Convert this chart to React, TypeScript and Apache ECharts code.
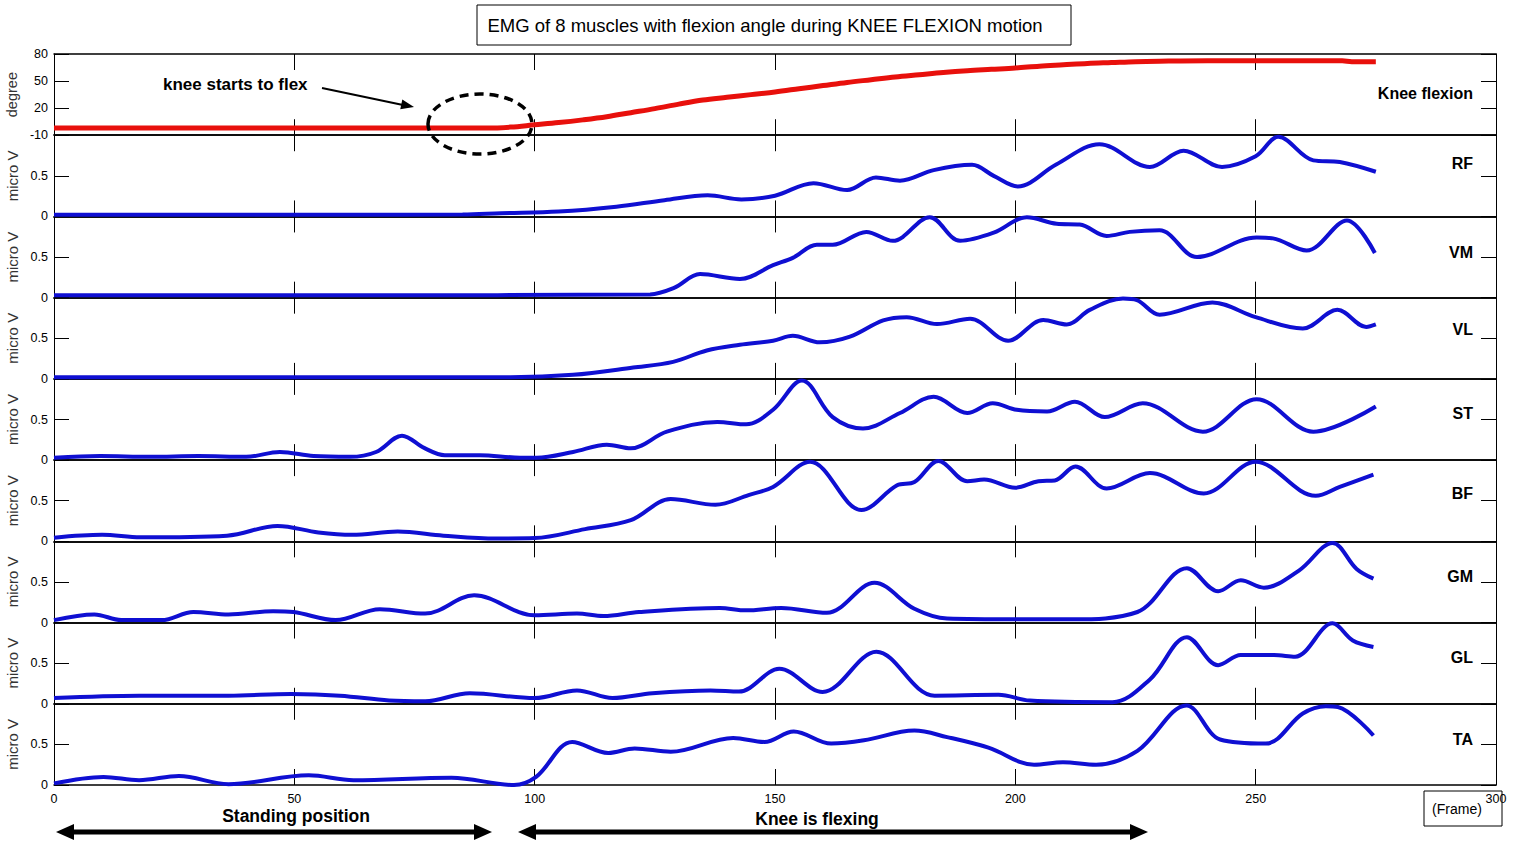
import React, { useEffect, useRef } from "react";
import * as echarts from "echarts";

type Pt = [number, number];

const frameMin = 0;
const frameMax = 300;
const frameStep = 50;
const panelLabels = ["Knee flexion", "RF", "VM", "VL", "ST", "BF", "GM", "GL", "TA"];
const axisNames = ["degree", "micro V", "micro V", "micro V", "micro V", "micro V", "micro V", "micro V", "micro V"];
const titleText = "EMG of 8 muscles with flexion angle during KNEE FLEXION motion";

const kneeFlexion: Pt[] = [
  [0, -2], [40, -2], [90, -2], [95, -1], [100, 1.5], [105, 4], [110, 7], [115, 10.5], [120, 15], [125, 19.5],
  [130, 24.5], [135, 29], [140, 32], [145, 35], [150, 38], [155, 41.5], [160, 45], [165, 48.5], [170, 51.5],
  [175, 54.5], [180, 57], [185, 59.5], [190, 61.5], [195, 63], [200, 64.5], [205, 66.5], [210, 68], [215, 69.5],
  [220, 70.5], [225, 71.5], [230, 72], [240, 72.5], [250, 72.5], [260, 72.5], [268, 72.5], [270, 71.5], [275, 71.5],
];

const rf: Pt[] = [
  [0, 0.02], [30, 0.02], [60, 0.02], [85, 0.025], [93, 0.04], [105, 0.06], [117, 0.12], [127, 0.2], [136, 0.26],
  [143, 0.21], [150, 0.255], [158, 0.41], [165, 0.325], [171, 0.48], [176, 0.44], [183, 0.57], [191, 0.635],
  [195.5, 0.5], [200.5, 0.37], [208.5, 0.64], [217.5, 0.89], [228, 0.61], [235, 0.81], [243, 0.61], [250, 0.74],
  [254.7, 0.98], [262, 0.69], [267.5, 0.67], [275, 0.55],
];

const vm: Pt[] = [
  [0, 0.03], [60, 0.03], [124, 0.04], [129, 0.12], [134.4, 0.29], [142.7, 0.23], [149.6, 0.4], [153.7, 0.49],
  [158.7, 0.65], [162, 0.65], [169, 0.81], [174.5, 0.7], [182.2, 0.99], [188.5, 0.7], [195.5, 0.8], [202.4, 0.99],
  [208.6, 0.91], [213.4, 0.9], [219, 0.76], [223.8, 0.81], [230, 0.83], [237.8, 0.5], [250.2, 0.74], [253.6, 0.73],
  [260.6, 0.58], [269, 0.95], [274.8, 0.55],
];

const vl: Pt[] = [
  [0, 0.02], [50, 0.02], [95, 0.02], [108, 0.05], [120.5, 0.14], [128.8, 0.21], [135.8, 0.35], [142.7, 0.42],
  [149.6, 0.47], [153.7, 0.53], [159.3, 0.45], [165.6, 0.52], [172.5, 0.72], [177.4, 0.76], [183.7, 0.675],
  [190.6, 0.74], [198.5, 0.47], [205.8, 0.725], [210.7, 0.67], [215.5, 0.85], [222.4, 0.99], [225.3, 0.97],
  [230, 0.79], [241, 0.94], [250, 0.76], [259.8, 0.62], [267, 0.85], [273, 0.64], [275, 0.67],
];

const st: Pt[] = [
  [0, 0.03], [9.6, 0.05], [20, 0.04], [30, 0.05], [40, 0.04], [47, 0.1], [54, 0.05], [61.6, 0.04], [67, 0.1],
  [72.4, 0.3], [77, 0.15], [81.3, 0.06], [88.6, 0.06], [97, 0.03], [100.4, 0.03], [108, 0.1], [115, 0.19],
  [120, 0.145], [127.5, 0.35], [138, 0.47], [144, 0.44], [149.6, 0.62], [155.6, 0.98], [162, 0.53], [168.3, 0.39],
  [176, 0.58], [183, 0.78], [190, 0.58], [195.3, 0.7], [200.3, 0.62], [206.6, 0.6], [212.4, 0.72], [218.6, 0.53],
  [226.5, 0.7], [239, 0.35], [250.2, 0.75], [262, 0.35], [275, 0.66],
];

const bf: Pt[] = [
  [0, 0.045], [10, 0.08], [18, 0.05], [36, 0.07], [46.5, 0.19], [55, 0.11], [62, 0.08], [71.5, 0.12], [81, 0.07],
  [92, 0.035], [100, 0.04], [110.5, 0.15], [120, 0.26], [128.3, 0.52], [137.6, 0.45], [144.5, 0.57], [149.6, 0.67],
  [157.3, 0.98], [168, 0.385], [175.4, 0.69], [179, 0.73], [184, 0.99], [190, 0.74], [193.5, 0.76], [200, 0.66],
  [204.8, 0.74], [208.2, 0.75], [212.5, 0.92], [219, 0.65], [228, 0.84], [239.2, 0.59], [250, 0.98], [262.5, 0.56],
  [267.5, 0.67], [274.5, 0.82],
];

const gm: Pt[] = [
  [0, 0.03], [8.4, 0.1], [14, 0.03], [22.4, 0.03], [29, 0.13], [36.3, 0.1], [45.6, 0.14], [49.8, 0.13], [58.6, 0.03],
  [67.8, 0.165], [77.2, 0.11], [87.4, 0.335], [100, 0.09], [108.8, 0.11], [114.3, 0.08], [121.7, 0.13], [138.5, 0.18],
  [144, 0.15], [151.3, 0.18], [160.8, 0.12], [170.7, 0.49], [179, 0.17], [185.8, 0.05], [200, 0.04], [211.6, 0.04],
  [225.4, 0.13], [235.7, 0.67], [242.2, 0.385], [246.9, 0.52], [251.7, 0.43], [259, 0.64], [266, 0.98], [271, 0.66],
  [274.5, 0.54],
];

const gl: Pt[] = [
  [0, 0.07], [17.7, 0.1], [36.3, 0.1], [49.3, 0.12], [59.5, 0.1], [69.7, 0.04], [77.2, 0.03], [86.5, 0.13], [100, 0.07],
  [108.8, 0.165], [116.2, 0.07], [124.5, 0.13], [136.6, 0.165], [142.5, 0.15], [150.9, 0.43], [159.9, 0.145],
  [171.1, 0.64], [183.2, 0.1], [196.5, 0.11], [203, 0.04], [220.2, 0.02], [228, 0.3], [235.7, 0.82], [242.2, 0.475],
  [246.9, 0.6], [253.8, 0.6], [258.2, 0.58], [266, 0.99], [270.2, 0.78], [274.5, 0.7],
];

const ta: Pt[] = [
  [0, 0.02], [10.3, 0.1], [17.7, 0.06], [26, 0.11], [36.3, 0.01], [53, 0.12], [62.3, 0.06], [82.7, 0.09], [95.7, 0.0],
  [100.3, 0.1], [107.8, 0.53], [115.3, 0.395], [120.8, 0.45], [128.3, 0.41], [141.3, 0.58], [147.8, 0.53],
  [153.9, 0.66], [161.7, 0.51], [168.5, 0.55], [179, 0.67], [185.8, 0.59], [194.4, 0.46], [203.9, 0.25], [209.9, 0.28],
  [216.8, 0.25], [225.4, 0.42], [235.6, 0.98], [242.6, 0.56], [252.1, 0.51], [259.8, 0.88], [264.6, 0.97],
  [267.1, 0.96], [274.5, 0.61],
];

const panelSeries: Pt[][] = [kneeFlexion, rf, vm, vl, st, bf, gm, gl, ta];

const FONT = '"Liberation Sans", Arial, sans-serif';
const PLOT_LEFT = 54;
const PLOT_RIGHT = 1496;
const PLOT_TOP = 54;
const PLOT_BOTTOM = 785;
const N = 9;
const PANEL_H = (PLOT_BOTTOM - PLOT_TOP) / N;
const LABEL_OFFSETS = [39, 28, 36, 32, 35, 33, 35, 35, 36];

function buildOption() {
  const grid: any[] = [];
  const xAxis: any[] = [];
  const yAxis: any[] = [];
  const series: any[] = [];
  for (let i = 0; i < N; i++) {
    const top = PLOT_TOP + i * PANEL_H;
    grid.push({
      left: PLOT_LEFT,
      width: PLOT_RIGHT - PLOT_LEFT,
      top,
      height: PANEL_H,
      containLabel: false,
      outerBoundsMode: "none",
    });
    for (const pos of ["bottom", "top"]) {
      xAxis.push({
        gridIndex: i,
        type: "value",
        min: frameMin,
        max: frameMax,
        interval: frameStep,
        position: pos,
        axisLine: { show: true, onZero: false, lineStyle: { color: "#000", width: 1.5 } },
        axisTick: { show: true, inside: true, length: 16, lineStyle: { color: "#000", width: 1 } },
        axisLabel: {
          show: pos === "bottom" && i === N - 1,
          color: "#000",
          fontSize: 12.5,
          fontFamily: FONT,
          margin: 7,
        },
        splitLine: { show: false },
      });
    }
    const isKnee = i === 0;
    for (const pos of ["left", "right"]) {
      yAxis.push({
        gridIndex: i,
        type: "value",
        min: isKnee ? -10 : 0,
        max: isKnee ? 80 : 1,
        interval: isKnee ? 30 : 0.5,
        position: pos,
        name: pos === "left" ? axisNames[i] : "",
        nameLocation: "middle",
        nameGap: 30,
        nameRotate: 90,
        nameTextStyle: { color: "#333", fontSize: isKnee ? 14.5 : 15, fontFamily: FONT },
        axisLine: { show: true, onZero: false, lineStyle: { color: "#000", width: 1 } },
        axisTick: { show: true, inside: true, length: 15, lineStyle: { color: "#000", width: 1 } },
        axisLabel: {
          show: pos === "left",
          color: "#000",
          fontSize: 12.5,
          fontFamily: FONT,
          margin: 6,
          formatter: (v: number) => (!isKnee && v === 1 ? "" : String(v)),
        },
        splitLine: { show: false },
      });
    }
    series.push({
      type: "line",
      name: panelLabels[i],
      xAxisIndex: 2 * i,
      yAxisIndex: 2 * i,
      data: panelSeries[i],
      showSymbol: false,
      smooth: 0.35,
      clip: true,
      lineStyle: { color: isKnee ? "#e8100c" : "#0f0fd2", width: isKnee ? 5 : 4 },
      z: 3,
    });
  }

  const txt = (text: string, x: number, y: number, font: string, align = "center") => ({
    type: "text",
    x,
    y,
    z: 10,
    style: { text, font, fill: "#000", align, verticalAlign: "middle" },
  });

  const arrowHead = (tx: number, ty: number, dx: number, dy: number, len: number, half: number) => {
    const bx = tx - dx * len;
    const by = ty - dy * len;
    const nx = -dy;
    const ny = dx;
    return {
      type: "polygon",
      z: 10,
      shape: { points: [[tx, ty], [bx + nx * half, by + ny * half], [bx - nx * half, by - ny * half]] },
      style: { fill: "#000" },
    };
  };

  const graphic: any[] = [
    { type: "rect", z: 9, shape: { x: 477, y: 5, width: 594, height: 40 }, style: { fill: "#fff", stroke: "#000", lineWidth: 1 } },
    txt(titleText, 765, 25, `18.5px ${FONT}`),
    txt("knee starts to flex", 163, 84, `bold 17px ${FONT}`, "left"),
    { type: "line", z: 10, shape: { x1: 322, y1: 88, x2: 403, y2: 105 }, style: { stroke: "#000", lineWidth: 2 } },
    arrowHead(414, 107, 0.978, 0.207, 13, 5),
    {
      type: "ellipse",
      z: 10,
      shape: { cx: 480, cy: 124, rx: 52, ry: 30 },
      style: { fill: "none", stroke: "#000", lineWidth: 3.5, lineDash: [9, 6] },
    },
    txt("Standing position", 296, 816, `bold 17.5px ${FONT}`),
    txt("Knee is flexing", 817, 819, `bold 17.5px ${FONT}`),
    { type: "line", z: 10, shape: { x1: 70, y1: 832, x2: 478, y2: 832 }, style: { stroke: "#000", lineWidth: 5 } },
    arrowHead(56, 832, -1, 0, 18, 8),
    arrowHead(492, 832, 1, 0, 18, 8),
    { type: "line", z: 10, shape: { x1: 532, y1: 832, x2: 1134, y2: 832 }, style: { stroke: "#000", lineWidth: 5 } },
    arrowHead(518, 832, -1, 0, 18, 8),
    arrowHead(1148, 832, 1, 0, 18, 8),
    { type: "rect", z: 9, shape: { x: 1424, y: 791, width: 78, height: 35 }, style: { fill: "none", stroke: "#000", lineWidth: 1 } },
    txt("(Frame)", 1457, 809, `14px ${FONT}`),
  ];
  for (let i = 0; i < N; i++) {
    const top = PLOT_TOP + i * PANEL_H;
    graphic.push(txt(panelLabels[i], 1473, top + LABEL_OFFSETS[i], `bold 16px ${FONT}`, "right"));
  }

  return {
    animation: false,
    backgroundColor: "#fff",
    textStyle: { fontFamily: FONT },
    grid,
    xAxis,
    yAxis,
    series,
    graphic,
  };
}

export default function App() {
  const ref = useRef<HTMLDivElement>(null);
  useEffect(() => {
    if (!ref.current) return;
    const chart = echarts.init(ref.current, undefined, { renderer: "svg" });
    chart.setOption(buildOption() as any);
    return () => chart.dispose();
  }, []);
  return (
    <div
      ref={ref}
      style={{ position: "fixed", left: 0, top: 0, width: 1516, height: 843, background: "#fff" }}
    />
  );
}
